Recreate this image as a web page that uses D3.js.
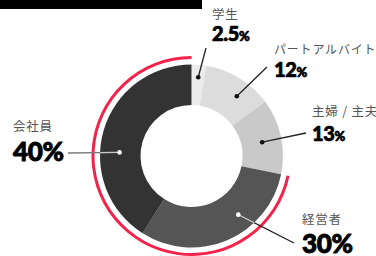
<!DOCTYPE html>
<html lang="ja">
<head>
<meta charset="UTF-8">
<title>Donut</title>
<script src="https://d3js.org/d3.v7.min.js"></script>
<style>
  html, body { margin: 0; padding: 0; background: #fff; }
  svg { display: block; }
</style>
</head>
<body>
<script>
// Data
const categories = ['学生', 'パートアルバイト', '主婦 / 主夫', '経営者', '会社員'];
const values = [2.5, 12, 13, 30, 40];
const valueLabels = ['2.5', '12', '13', '30', '40'];
const highlighted = ['経営者', '会社員'];

// Layout
const W = 376, H = 256;
const cx = 191.5, cy = 156;
const outerR = 91.5, innerR = 51;
const colors = ['#ebebeb', '#dcdcdc', '#c9c9c9', '#555555', '#333333'];

// label placement: text x, name baseline, value baseline, line end, dot spot inside slice
const labelLayout = [
  { x: 212, ny: 19,  vy: 41,  ex: 206, ey: 48,  f: 0.53, r: 79, big: false, dark: false },
  { x: 274, ny: 54,  vy: 77,  ex: 267, ey: 67,  f: 0.63, r: 75, big: false, dark: false },
  { x: 312, ny: 116, vy: 141, ex: 306, ey: 133, f: 0.53, r: 72, big: false, dark: false },
  { x: 302, ny: 224, vy: 253, ex: 294, ey: 243, f: 0.36, r: 75, big: true,  dark: true },
  { x: 13,  ny: 131, vy: 161, ex: 68,  ey: 153, f: 0.41, r: 72, big: true,  dark: true }
];

const svg = d3.select('body').append('svg')
  .attr('width', W).attr('height', H);

svg.append('rect').attr('width', W).attr('height', H).attr('fill', '#fff');

// black bar at top
svg.append('rect').attr('x', 0).attr('y', 0).attr('width', 202).attr('height', 9).attr('fill', '#000');

const pie = d3.pie().sort(null).value(d => d);
const arcs = pie(values);

const g = svg.append('g').attr('transform', `translate(${cx},${cy})`);

const arc = d3.arc().innerRadius(innerR).outerRadius(outerR);
g.selectAll('path.slice')
  .data(arcs)
  .enter().append('path')
  .attr('class', 'slice')
  .attr('d', arc)
  .attr('fill', (d, i) => colors[i]);

// red highlight arc around the highlighted slices
const hiArcs = arcs.filter((d, i) => highlighted.includes(categories[i]));
const redArc = d3.arc().innerRadius(97).outerRadius(100)
  .startAngle(d3.min(hiArcs, d => d.startAngle))
  .endAngle(d3.max(hiArcs, d => d.endAngle));
g.append('path').attr('d', redArc()).attr('fill', '#f4234a');

// clip for the part of leader lines lying on the ring
svg.append('clipPath').attr('id', 'ringClip')
  .append('circle').attr('cx', cx).attr('cy', cy).attr('r', outerR);

// leader lines, dots and labels
arcs.forEach((d, i) => {
  const L = labelLayout[i];
  const a = d.startAngle + (d.endAngle - d.startAngle) * L.f;
  const px = cx + L.r * Math.sin(a);
  const py = cy - L.r * Math.cos(a);

  svg.append('line')
    .attr('x1', px).attr('y1', py).attr('x2', L.ex).attr('y2', L.ey)
    .attr('stroke', i === 4 ? '#7a7a7a' : '#222')
    .attr('stroke-width', 1.3);

  if (L.dark) {
    svg.append('line')
      .attr('x1', px).attr('y1', py).attr('x2', L.ex).attr('y2', L.ey)
      .attr('clip-path', 'url(#ringClip)')
      .attr('stroke', '#c8c8c8')
      .attr('stroke-width', 1.3);
  }

  svg.append('circle')
    .attr('cx', px).attr('cy', py).attr('r', 2.3)
    .attr('fill', L.dark ? '#fff' : '#111');

  svg.append('text')
    .attr('x', L.x).attr('y', L.ny)
    .attr('font-family', '"Noto Sans CJK JP", "Noto Sans", sans-serif')
    .attr('font-size', i === 1 ? 12 : 12.5)
    .attr('letter-spacing', 0.8)
    .attr('fill', '#555')
    .text(categories[i]);

  const t = svg.append('text')
    .attr('x', L.x).attr('y', L.vy)
    .attr('font-family', 'Lato, "DejaVu Sans", sans-serif')
    .attr('font-weight', 900)
    .attr('font-size', L.big ? 26 : 20)
    .attr('letter-spacing', -0.3)
    .attr('fill', '#000')
    .attr('stroke', '#000')
    .attr('stroke-width', L.big ? 0.9 : 0.7)
    .attr('stroke-linejoin', 'round');
  t.append('tspan').text(valueLabels[i]);
  t.append('tspan').attr('font-size', L.big ? 26 : 13).text('%');
});
</script>
</body>
</html>
